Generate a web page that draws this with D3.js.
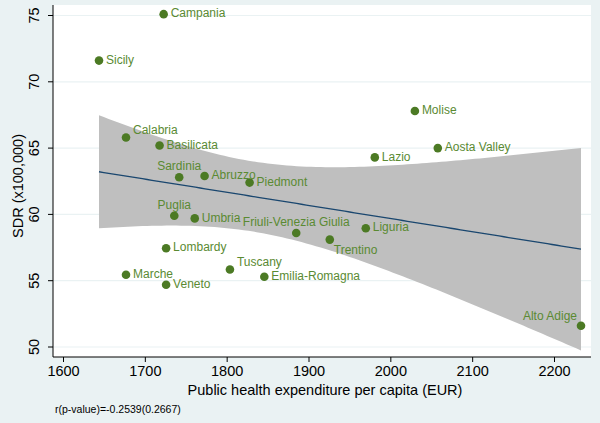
<!DOCTYPE html>
<html><head><meta charset="utf-8">
<script src="https://cdn.jsdelivr.net/npm/d3@7"></script>
<style>body{margin:0;background:#eaf2f3;}svg{display:block;font-family:"Liberation Sans",Arial,sans-serif;}</style>
</head><body>
<svg id="c" width="600" height="423"></svg>
<script>
const regions = ["Campania","Sicily","Calabria","Basilicata","Sardinia","Abruzzo","Piedmont","Molise","Lazio","Aosta Valley","Puglia","Umbria","Friuli-Venezia Giulia","Trentino","Liguria","Lombardy","Tuscany","Emilia-Romagna","Marche","Veneto","Alto Adige"];
const expenditure = [1723,1644,1677,1718,1742,1773,1828,2030,1981,2058,1736,1761,1885,1926,1970,1726,1804,1846,1677,1726,2233];
const sdr = [75.1,71.6,65.8,65.2,62.8,62.9,62.4,67.8,64.3,65.0,59.9,59.7,58.6,58.1,58.95,57.45,55.85,55.3,55.45,54.7,51.6];
// label clock positions (Stata mlabvposition)
const labelPos = [3,3,1,3,12,3,3,3,3,3,12,3,12,4,3,3,1,3,3,3,11];
const xTicks = [1600,1700,1800,1900,2000,2100,2200];
const yTicks = [50,55,60,65,70,75];
const note = "r(p-value)=-0.2539(0.2667)";

const svg = d3.select("#c");
const L = 53, R = 591, T = 5, B = 357;
svg.append("rect").attr("x",0).attr("y",0).attr("width",600).attr("height",423).attr("fill","#eaf2f3");
svg.append("rect").attr("x",L).attr("y",T).attr("width",R-L).attr("height",B-T).attr("fill","#ffffff");

const x = d3.scaleLinear().domain([1600,2200]).range([63,554]);
const y = d3.scaleLinear().domain([50,75]).range([347,15.5]);

// gridlines
svg.append("g").selectAll("line").data(yTicks).join("line")
  .attr("x1",L).attr("x2",R).attr("y1",d=>y(d)).attr("y2",d=>y(d))
  .attr("stroke","#eaf2f3").attr("stroke-width",1.2);

// regression + CI
const n = expenditure.length;
const mx = d3.mean(expenditure), my = d3.mean(sdr);
let sxx=0, sxy=0;
for(let i=0;i<n;i++){sxx+=(expenditure[i]-mx)**2; sxy+=(expenditure[i]-mx)*(sdr[i]-my);}
const b = sxy/sxx, a = my - b*mx;
let sse=0; for(let i=0;i<n;i++){sse+=(sdr[i]-a-b*expenditure[i])**2;}
const s = Math.sqrt(sse/(n-2)), tq = 2.093;
const x0 = d3.min(expenditure), x1 = d3.max(expenditure);
const grid = d3.range(0,101).map(k=>x0+(x1-x0)*k/100);
const fit = grid.map(g=>{const yh=a+b*g; const se=s*Math.sqrt(1/n+(g-mx)**2/sxx); return {g,yh,lo:yh-tq*se,hi:yh+tq*se};});
svg.append("path").datum(fit)
  .attr("d",d3.area().x(d=>x(d.g)).y0(d=>y(d.lo)).y1(d=>y(d.hi)))
  .attr("fill","#bfbfbf");
svg.append("path").datum(fit)
  .attr("d",d3.line().x(d=>x(d.g)).y(d=>y(d.yh)))
  .attr("fill","none").attr("stroke","#1a476f").attr("stroke-width",1.3);

// axes
const xa = svg.append("g").attr("transform",`translate(0,${B})`)
  .call(d3.axisBottom(x).tickValues(xTicks).tickSize(5).tickPadding(4).tickFormat(d3.format("d")));
xa.select(".domain").attr("d",`M${L},0H${R}`).attr("stroke","#000");
xa.selectAll("text").attr("font-size",14.5).attr("fill","#000").attr("font-family","Liberation Sans, Arial, sans-serif");
const ya = svg.append("g").attr("transform",`translate(${L},0)`)
  .call(d3.axisLeft(y).tickValues(yTicks).tickSize(5).tickPadding(3).tickFormat(d3.format("d")));
ya.select(".domain").attr("d",`M0,${T}V${B}`).attr("stroke","#000");
ya.selectAll("text").attr("font-size",14.5).attr("fill","#000").attr("font-family","Liberation Sans, Arial, sans-serif")
  .attr("text-anchor","middle").attr("dy",0)
  .attr("transform",function(d){return `translate(-18,${y(d)}) rotate(-90)`;})
  .attr("x",0).attr("y",0).attr("dominant-baseline","middle");
ya.selectAll(".tick").attr("transform","translate(0,0)");
ya.selectAll(".tick line").attr("y1",d=>y(d)).attr("y2",d=>y(d));

svg.append("text").attr("x",(L+R)/2 + 3).attr("y",395).attr("text-anchor","middle")
  .attr("font-size",14.5).attr("fill","#000").text("Public health expenditure per capita (EUR)");
svg.append("text").attr("transform",`translate(23,${(T+B)/2 + 5}) rotate(-90)`).attr("text-anchor","middle")
  .attr("font-size",14.5).attr("fill","#000").text("SDR (x100,000)");
svg.append("text").attr("x",55).attr("y",413).attr("font-size",10.5).attr("fill","#000").text(note);

// points
const pts = regions.map((r,i)=>({r,x:expenditure[i],y:sdr[i],p:labelPos[i]}));
svg.append("g").selectAll("circle").data(pts).join("circle")
  .attr("cx",d=>x(d.x)).attr("cy",d=>y(d.y)).attr("r",4.3).attr("fill","#4c7a24");
const off = {3:[7,0,"start"],1:[7,-7,"start"],12:[0,-10,"middle"],4:[4,11,"start"],11:[-4,-9,"end"]};
svg.append("g").selectAll("text").data(pts).join("text")
  .attr("x",d=>x(d.x)+off[d.p][0]).attr("y",d=>y(d.y)+off[d.p][1])
  .attr("text-anchor",d=>off[d.p][2]).attr("dominant-baseline","middle")
  .attr("font-size",12).attr("fill","#5a8a32").text(d=>d.r);
</script>
</body></html>
